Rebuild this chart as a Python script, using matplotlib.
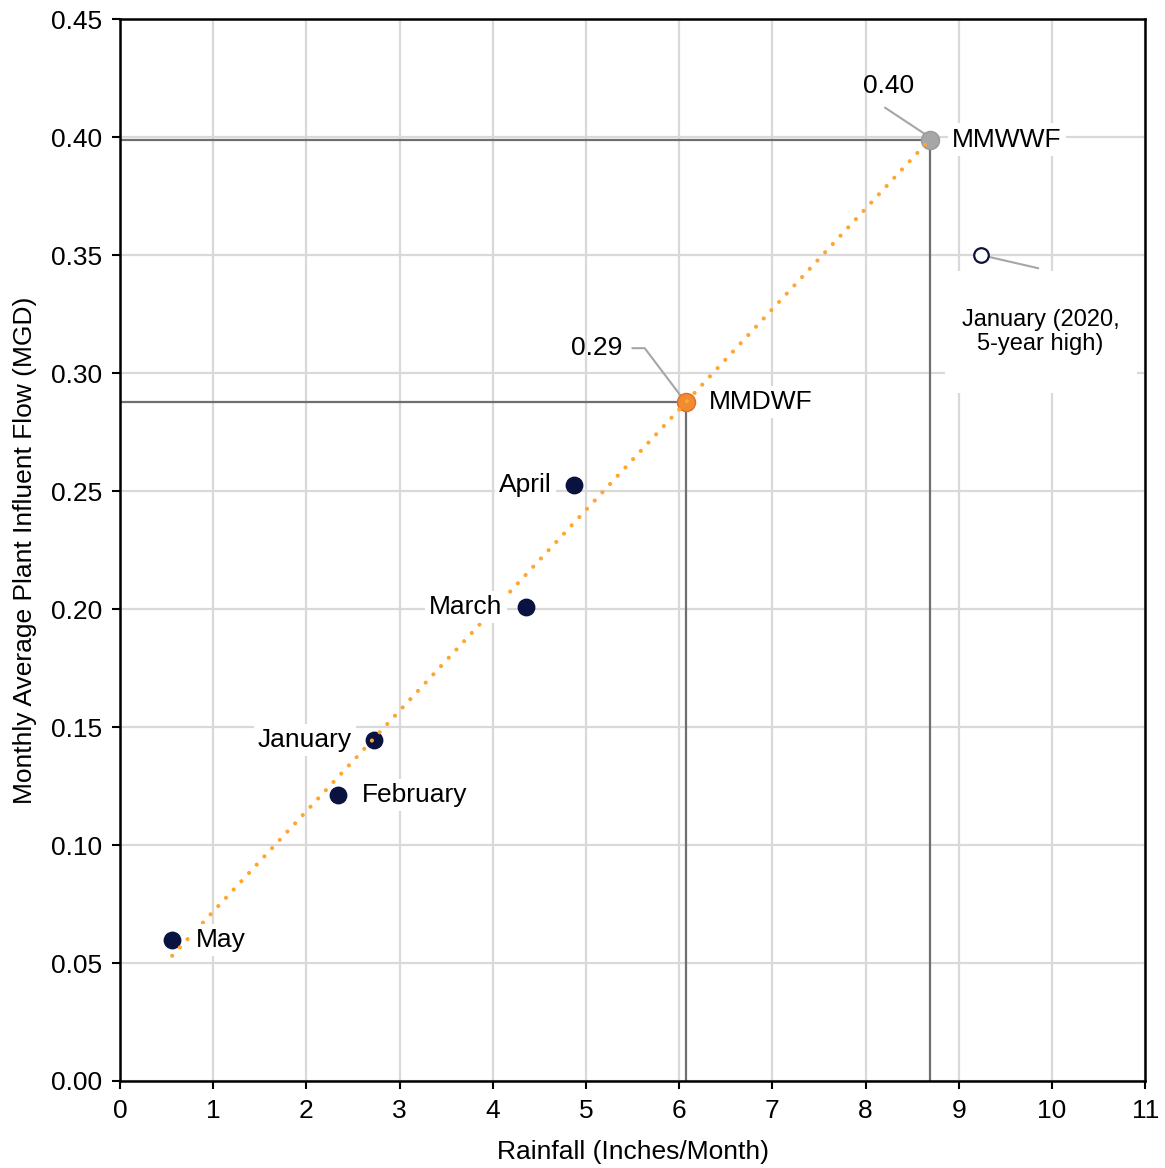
import matplotlib.pyplot as plt
from matplotlib.patches import Rectangle
import numpy as np

plt.rcParams['font.family'] = ['Liberation Sans', 'DejaVu Sans']
plt.rcParams['font.size'] = 19

months = ['May', 'February', 'January', 'March', 'April']
rain = [0.56, 2.34, 2.73, 4.36, 4.87]
flow = [0.0597, 0.1212, 0.1445, 0.2008, 0.2525]

mmdwf_x, mmdwf_y = 6.07, 0.2877
mmwwf_x, mmwwf_y = 8.69, 0.399
jan2020_x, jan2020_y = 9.24, 0.35

fig = plt.figure(figsize=(11.65, 11.68), dpi=100)
ax = fig.add_axes([0.103, 0.0745, 0.880, 0.909])

ax.set_xlim(0, 11)
ax.set_ylim(0, 0.45)
ax.set_xticks(range(0, 12))
ax.set_yticks(np.arange(0, 0.451, 0.05))
ax.set_yticklabels(['%.2f' % v for v in np.arange(0, 0.451, 0.05)])
ax.grid(True, color='#d9d9d9', linewidth=1.6, zorder=0)
ax.set_axisbelow(True)
for s in ax.spines.values():
    s.set_linewidth(1.8)
    s.set_color('black')
ax.tick_params(direction='out', length=6, width=1.5, labelsize=19, pad=7)

# reference lines
ax.plot([0, mmwwf_x, mmwwf_x], [mmwwf_y, mmwwf_y, 0], color='#6f6f6f', linewidth=1.6, zorder=2)
ax.plot([0, mmdwf_x, mmdwf_x], [mmdwf_y, mmdwf_y, 0], color='#6f6f6f', linewidth=1.6, zorder=2)

# trend line from the monthly points
slope, icpt = np.polyfit(rain, flow, 1)
tx = np.array([min(rain), mmwwf_x])
ax.plot(tx, slope * tx + icpt, linestyle=(0, (0.01, 2.7)), color='#ffa630',
        linewidth=3.0, dash_capstyle='round', zorder=4)

ax.scatter(rain, flow, s=140, color='#0a1240', zorder=3)
ax.scatter([mmdwf_x], [mmdwf_y], s=170, color='#f08a33', edgecolor='#e07020', zorder=3)
ax.scatter([mmwwf_x], [mmwwf_y], s=170, color='#a6a6a6', edgecolor='#9a9a9a', zorder=3)
ax.scatter([jan2020_x], [jan2020_y], s=110, facecolor='white', edgecolor='#0a1240', linewidth=1.6, zorder=3)

box = dict(facecolor='white', edgecolor='none', pad=3)
offsets = {'May': (17, 0, 'left'), 'February': (17, 0, 'left'), 'January': (-16, 0, 'right'),
           'March': (-17, 0, 'right'), 'April': (-16, 0, 'right')}
for m, x, y in zip(months, rain, flow):
    dx, dy, ha = offsets[m]
    ax.annotate(m, (x, y), xytext=(dx, dy), textcoords='offset points', ha=ha, va='center',
                fontsize=19, bbox=box, zorder=5)

ax.annotate('MMWWF', (mmwwf_x, mmwwf_y), xytext=(16, 0), textcoords='offset points',
            ha='left', va='center', fontsize=19, bbox=box, zorder=5)
ax.annotate('MMDWF', (mmdwf_x, mmdwf_y), xytext=(17, 0), textcoords='offset points',
            ha='left', va='center', fontsize=19, bbox=box, zorder=5)

# value labels with leader lines
ax.plot([8.21, mmwwf_x - 0.04], [0.4125, mmwwf_y + 0.002], color='#a6a6a6', linewidth=1.5, zorder=2)
ax.text(8.25, 0.4216, '%.2f' % mmwwf_y, ha='center', va='center', fontsize=19, zorder=5)
ax.plot([5.5, 5.63, mmdwf_x - 0.04], [0.3106, 0.3106, mmdwf_y + 0.002], color='#a6a6a6', linewidth=1.5, zorder=2)
ax.text(5.12, 0.3106, '%.2f' % mmdwf_y, ha='center', va='center', fontsize=19, zorder=5)

# label box for the 2020 January point
ax.add_patch(Rectangle((8.85, 0.2915), 2.06, 0.052, facecolor='white', edgecolor='none', zorder=1))
ax.plot([jan2020_x + 0.06, 9.85], [jan2020_y - 0.0005, 0.3445], color='#a6a6a6', linewidth=1.5, zorder=2)
ax.text(9.875, 0.3175, 'January (2020,\n5-year high)', ha='center', va='center', fontsize=17,
        linespacing=1.15, zorder=5)

ax.set_xlabel('Rainfall (Inches/Month)', fontsize=19, labelpad=12)
ax.set_ylabel('Monthly Average Plant Influent Flow (MGD)', fontsize=19, labelpad=10)

fig.savefig('out.png')
